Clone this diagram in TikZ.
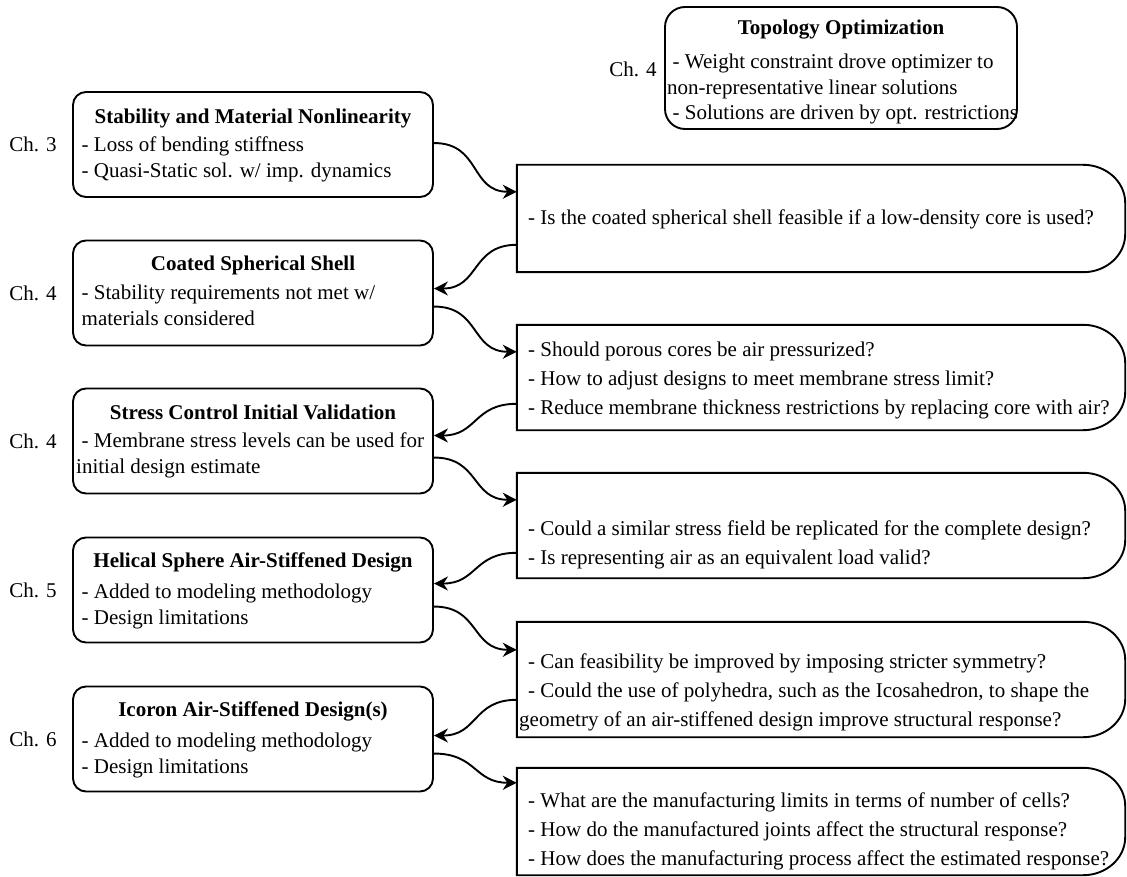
\documentclass[tikz,border=0pt]{standalone}
\usepackage{fontspec}
\setmainfont{Liberation Serif}
\usetikzlibrary{arrows.meta,calc}

% outline of a question box: straight left side, rounded right end
\newcommand\qoutline[1]{%
  \draw[line width=1.9pt] (#1.north west) -- ($(#1.north east)+(-42,0)$)
    .. controls ($(#1.north east)+(-19,0)$) and ($(#1.north east)+(0,17)$) .. ($(#1.north east)+(0,38)$)
    -- ($(#1.south east)+(0,-38)$)
    .. controls ($(#1.south east)+(0,-17)$) and ($(#1.south east)+(-19,0)$) .. ($(#1.south east)+(-42,0)$)
    -- (#1.south west) -- cycle;}
\newcommand\bul{\hspace*{5.5pt}}
\newcommand\qbul{\hspace*{9pt}}

\begin{document}
\begin{tikzpicture}[x=1pt,y=-1pt,
  lbox/.style={draw, line width=1.9pt, rounded corners=13pt, minimum width=360pt,
    minimum height=105pt, inner sep=0pt},
  qarea/.style={inner sep=0pt, minimum width=608pt},
  ttl/.style={font=\fontsize{21}{27}\selectfont\bfseries, inner sep=0pt},
  lbody/.style={font=\fontsize{21}{26}\selectfont, align=left, anchor=west, inner sep=0pt},
  rbody/.style={font=\fontsize{21}{29}\selectfont, align=left, anchor=west, inner sep=0pt},
  chap/.style={font=\fontsize{21}{25}\selectfont, inner sep=0pt},
  link/.style={line width=1.9pt, -{Stealth[length=14pt,width=14pt,inset=4.5pt]}, looseness=1.25},
]
\useasboundingbox (0,0) rectangle (1127,877);

% topology optimization box
\node[draw, line width=1.9pt, rounded corners=20pt, minimum width=352pt, minimum height=122pt,
  inner sep=0pt] (T) at (841,68) {};
\node[ttl] (Tt) at (841,30) {Topology Optimization};
\node[lbody, font=\fontsize{21}{25.5}\selectfont] (Tb) at (667,89)
  {\bul- Weight constraint drove optimizer to\\non-representative linear solutions\\\bul- Solutions are driven by opt. restrictions};
\node[chap] (Tc) at (633,69) {Ch. 4};

% chapter boxes
\node[lbox] (L1) at (253,144.5) {};
\node[lbox] (L2) at (253,293) {};
\node[lbox] (L3) at (253,441) {};
\node[lbox] (L4) at (253,590) {};
\node[lbox] (L5) at (253,739) {};

\node[ttl] (L1t) at (253,118) {Stability and Material Nonlinearity};
\node[lbody] (L1b) at (76,159) {\bul- Loss of bending stiffness\\\bul- Quasi-Static sol. w/ imp. dynamics};
\node[ttl] (L2t) at (253,265) {Coated Spherical Shell};
\node[lbody] (L2b) at (76,305) {\bul- Stability requirements not met w/\\\bul materials considered};
\node[ttl] (L3t) at (253,412) {Stress Control Initial Validation};
\node[lbody] (L3b) at (76,455) {\bul- Membrane stress levels can be used for\\initial design estimate};
\node[ttl] (L4t) at (253,562) {Helical Sphere Air-Stiffened Design};
\node[lbody] (L4b) at (76,606) {\bul- Added to modeling methodology\\\bul- Design limitations};
\node[ttl] (L5t) at (253,711) {Icoron Air-Stiffened Design(s)};
\node[lbody] (L5b) at (76,755) {\bul- Added to modeling methodology\\\bul- Design limitations};

\node[chap] (C1) at (33,144.5) {Ch. 3};
\node[chap] (C2) at (33,293) {Ch. 4};
\node[chap] (C3) at (33,441) {Ch. 4};
\node[chap] (C4) at (33,590) {Ch. 5};
\node[chap] (C5) at (33,739) {Ch. 6};

% question boxes
\node[qarea, minimum height=107pt] (R1) at (821,218.5) {};
\node[qarea, minimum height=105pt] (R2) at (821,377.5) {};
\node[qarea, minimum height=105pt] (R3) at (821,525.5) {};
\node[qarea, minimum height=115pt] (R4) at (821,679.5) {};
\node[qarea, minimum height=107pt] (R5) at (821,821.5) {};
\qoutline{R1}\qoutline{R2}\qoutline{R3}\qoutline{R4}\qoutline{R5}

\node[rbody] (R1b) at (519,219) {\qbul- Is the coated spherical shell feasible if a low-density core is used?};
\node[rbody] (R2b) at (519,380) {\qbul- Should porous cores be air pressurized?\\
  \qbul- How to adjust designs to meet membrane stress limit?\\
  \qbul- Reduce membrane thickness restrictions by replacing core with air?};
\node[rbody] (R3b) at (519,545) {\qbul- Could a similar stress field be replicated for the complete design?\\
  \qbul- Is representing air as an equivalent load valid?};
\node[rbody] (R4b) at (519,692) {\qbul- Can feasibility be improved by imposing stricter symmetry?\\
  \qbul- Could the use of polyhedra, such as the Icosahedron, to shape the\\
  geometry of an air-stiffened design improve structural response?};
\node[rbody] (R5b) at (519,831) {\qbul- What are the manufacturing limits in terms of number of cells?\\
  \qbul- How do the manufactured joints affect the structural response?\\
  \qbul- How does the manufacturing process affect the estimated response?};

% connectors
\draw[link] ($(L1.north east)+(0,52)$) to[out=0,in=180] ($(R1.north west)+(0,27)$);
\draw[link] ($(R1.north west)+(0,80)$) to[out=180,in=0] ($(L2.north east)+(0,49)$);
\draw[link] ($(L2.north east)+(0,67)$) to[out=0,in=180] ($(R2.north west)+(0,27)$);
\draw[link] ($(R2.north west)+(0,79)$) to[out=180,in=0] ($(L3.north east)+(0,48)$);
\draw[link] ($(L3.north east)+(0,70)$) to[out=0,in=180] ($(R3.north west)+(0,27)$);
\draw[link] ($(R3.north west)+(0,80)$) to[out=180,in=0] ($(L4.north east)+(0,47)$);
\draw[link] ($(L4.north east)+(0,70)$) to[out=0,in=180] ($(R4.north west)+(0,28)$);
\draw[link] ($(R4.north west)+(0,78)$) to[out=180,in=0] ($(L5.north east)+(0,50)$);
\draw[link] ($(L5.north east)+(0,68)$) to[out=0,in=180] ($(R5.north west)+(0,15)$);
\end{tikzpicture}
\end{document}
